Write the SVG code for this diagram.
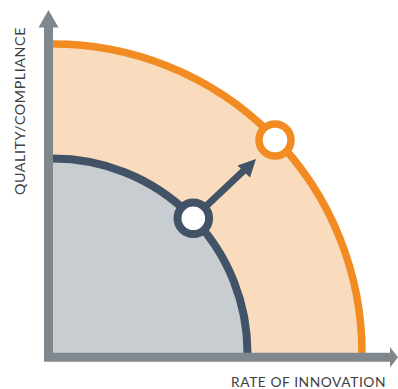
<svg xmlns="http://www.w3.org/2000/svg" width="398" height="389" viewBox="0 0 398 389">
  <style>
    .axis { stroke: #80878d; stroke-width: 9; fill: none; }
    .axis-head { fill: #80878d; }
    .label { font-family: "Lato", "Open Sans", "Liberation Sans", sans-serif; font-size: 12.5px; fill: #404040; letter-spacing: 0.5px; }
    .outer-arc { stroke: #f28c22; stroke-width: 7.5; fill: none; }
    .inner-arc { stroke: #435367; stroke-width: 8; fill: none; }
  </style>

  <!-- frontier regions: quarter discs centred on the inner axis corner (53,353) -->
  <g id="outer-frontier">
    <path d="M53,353 L53,44 A309,309 0 0 1 362,353 Z" fill="#f9dbbd"/>
    <path class="outer-arc" d="M53,44 A309,309 0 0 1 362,353"/>
  </g>
  <g id="inner-frontier">
    <path d="M53,353 L53,158.5 A194.5,194.5 0 0 1 247.5,353 Z" fill="#c8cdd2"/>
    <path class="inner-arc" d="M53,158.5 A194.5,194.5 0 0 1 247.5,353"/>
  </g>

  <!-- axes -->
  <g id="axes">
    <path class="axis" d="M48.5,26 L48.5,357.3 L390,357.3"/>
    <polygon class="axis-head" points="48.5,10 38.5,27.5 58.5,27.5"/>
    <polygon class="axis-head" points="398,357.3 390,347 390,367.6"/>
  </g>

  <!-- shift arrow from current to improved position -->
  <g id="connectors">
    <line x1="193.3" y1="218.3" x2="247" y2="167.5" stroke="#435367" stroke-width="7"/>
    <polygon points="256,159 237.5,165.5 250,177.5" fill="#435367"/>
  </g>

  <g id="current-point">
    <circle cx="193.3" cy="218.3" r="15.8" fill="#ffffff" stroke="#435367" stroke-width="8"/>
  </g>
  <g id="target-point">
    <circle cx="275" cy="140" r="16" fill="#ffffff" stroke="#f28c22" stroke-width="7.5"/>
  </g>

  <g id="x-label">
    <text class="label" x="231" y="386.5" textLength="155" lengthAdjust="spacingAndGlyphs">RATE OF INNOVATION</text>
  </g>
  <g id="y-label">
    <text class="label" transform="translate(25,195) rotate(-90)" x="0" y="0" textLength="168" lengthAdjust="spacingAndGlyphs">QUALITY/COMPLIANCE</text>
  </g>
</svg>
